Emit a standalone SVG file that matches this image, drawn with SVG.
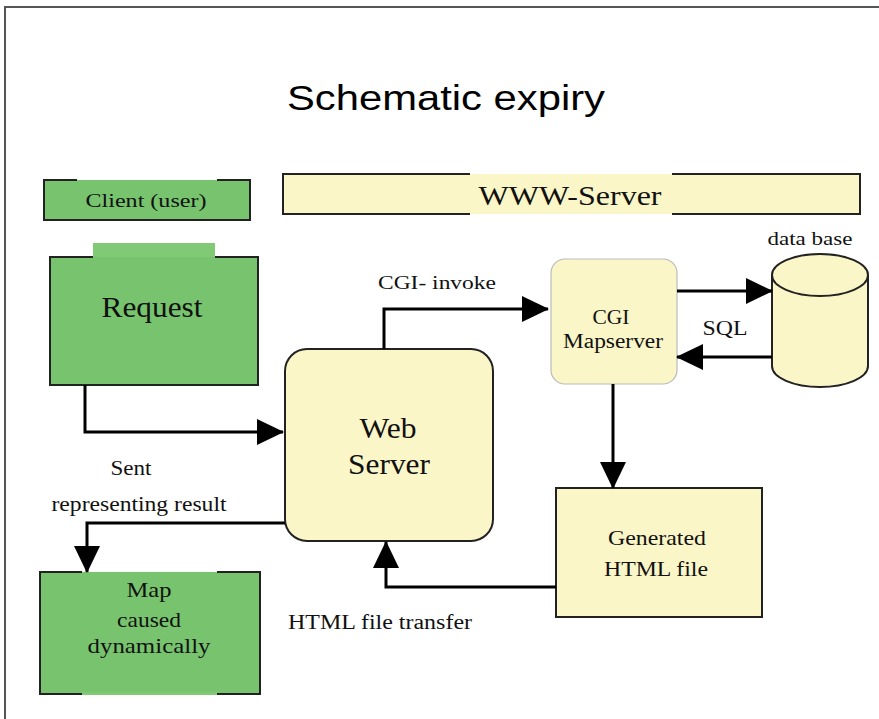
<svg xmlns="http://www.w3.org/2000/svg" width="879" height="719" viewBox="0 0 879 719">
<style>
.t{font-family:"Liberation Serif","Times New Roman",serif;fill:#111;text-anchor:middle}
.green{fill:#78c46e}
.tab{fill:#80ca76}
.yellow{fill:#faf6c8}
.edge{stroke:#222;stroke-width:2;fill:none}
.conn{stroke:#000;stroke-width:3;fill:none}
</style>
<defs>
<marker id="arr" markerUnits="userSpaceOnUse" markerWidth="28" markerHeight="28" viewBox="0 0 28 28" refX="26" refY="13" orient="auto">
<path d="M0,0 L27,13 L0,26 z" fill="#000"/>
</marker>
</defs>
<rect x="0" y="0" width="879" height="719" fill="#fff"/>
<g id="frame">
<path d="M5,719 V7 H879" stroke="#555" stroke-width="2" fill="none"/>
</g>
<g id="title">
<text x="287" y="110" font-family="Liberation Sans, Arial, sans-serif" font-size="35" textLength="318" lengthAdjust="spacingAndGlyphs" fill="#000">Schematic expiry</text>
</g>
<g id="client">
<rect class="green" x="44" y="180" width="206" height="40"/>
<path class="edge" d="M77,180 H44 V220 H250 V180 H217"/>
<text class="t" x="146" y="207" font-size="19" textLength="121" lengthAdjust="spacingAndGlyphs">Client (user)</text>
</g>
<g id="www-server">
<rect class="yellow" x="283" y="174" width="577" height="40"/>
<path class="edge" d="M470,174 H283 V214 H470 M672,174 H860 V214 H672"/>
<text class="t" x="570" y="205" font-size="28" textLength="183" lengthAdjust="spacingAndGlyphs">WWW-Server</text>
</g>
<g id="request">
<rect class="tab" x="93" y="243" width="122" height="15"/>
<rect class="green" x="50" y="257" width="208" height="128"/>
<path class="edge" d="M93,257 H50 V385 H258 V257 H215"/>
<text class="t" x="152" y="317" font-size="29" textLength="101" lengthAdjust="spacingAndGlyphs">Request</text>
</g>
<g id="web-server">
<rect class="yellow" x="285" y="349" width="208" height="192" rx="22" ry="22" stroke="#222" stroke-width="2"/>
<text class="t" x="388" y="438" font-size="30" textLength="57" lengthAdjust="spacingAndGlyphs">Web</text>
<text class="t" x="389" y="474" font-size="30" textLength="82" lengthAdjust="spacingAndGlyphs">Server</text>
</g>
<g id="cgi-mapserver">
<rect class="yellow" x="551" y="259" width="126" height="125" rx="14" ry="14" stroke="#bbb" stroke-width="1.2"/>
<text class="t" x="611" y="324" font-size="20" textLength="37" lengthAdjust="spacingAndGlyphs">CGI</text>
<text class="t" x="613" y="348" font-size="20" textLength="100" lengthAdjust="spacingAndGlyphs">Mapserver</text>
</g>
<g id="database">
<path class="yellow" d="M772,275 A48,21 0 0 1 868,275 V366 A48,21 0 0 1 772,366 Z" stroke="#222" stroke-width="2"/>
<path d="M772,275 A48,21 0 0 0 868,275" stroke="#222" stroke-width="2" fill="none"/>
<text class="t" x="810" y="245" font-size="18" textLength="85" lengthAdjust="spacingAndGlyphs">data base</text>
</g>
<g id="generated-html">
<rect class="yellow" x="556" y="488" width="206" height="129" stroke="#222" stroke-width="2"/>
<text class="t" x="657" y="545" font-size="22" textLength="98" lengthAdjust="spacingAndGlyphs">Generated</text>
<text class="t" x="656" y="576" font-size="22" textLength="104" lengthAdjust="spacingAndGlyphs">HTML file</text>
</g>
<g id="map">
<rect class="green" x="40" y="572" width="220" height="122"/>
<rect class="tab" x="82" y="692" width="135" height="3"/>
<path class="edge" d="M82,572 H40 V694 H82 M217,694 H260 V572 H217"/>
<text class="t" x="149" y="597" font-size="21" textLength="45" lengthAdjust="spacingAndGlyphs">Map</text>
<text class="t" x="149" y="627" font-size="21" textLength="64" lengthAdjust="spacingAndGlyphs">caused</text>
<text class="t" x="149" y="653" font-size="21" textLength="123" lengthAdjust="spacingAndGlyphs">dynamically</text>
</g>
<g id="connectors">
<polyline class="conn" points="85,385 85,432 283,432" marker-end="url(#arr)"/>
<polyline class="conn" points="384,349 384,309 548,309" marker-end="url(#arr)"/>
<polyline class="conn" points="677,291 772,291" marker-end="url(#arr)"/>
<polyline class="conn" points="772,357 677,357" marker-end="url(#arr)"/>
<polyline class="conn" points="613,384 613,488" marker-end="url(#arr)"/>
<polyline class="conn" points="556,587 386,587 386,542" marker-end="url(#arr)"/>
<polyline class="conn" points="285,523 87,523 87,572" marker-end="url(#arr)"/>
</g>
<g id="labels">
<text class="t" x="437" y="289" font-size="19" textLength="118" lengthAdjust="spacingAndGlyphs">CGI- invoke</text>
<text class="t" x="725" y="335" font-size="20" textLength="45" lengthAdjust="spacingAndGlyphs">SQL</text>
<text class="t" x="131" y="475" font-size="20" textLength="41" lengthAdjust="spacingAndGlyphs">Sent</text>
<text class="t" x="139" y="511" font-size="20" textLength="175" lengthAdjust="spacingAndGlyphs">representing result</text>
<text class="t" x="380" y="629" font-size="20" textLength="184" lengthAdjust="spacingAndGlyphs">HTML file transfer</text>
</g>
</svg>
